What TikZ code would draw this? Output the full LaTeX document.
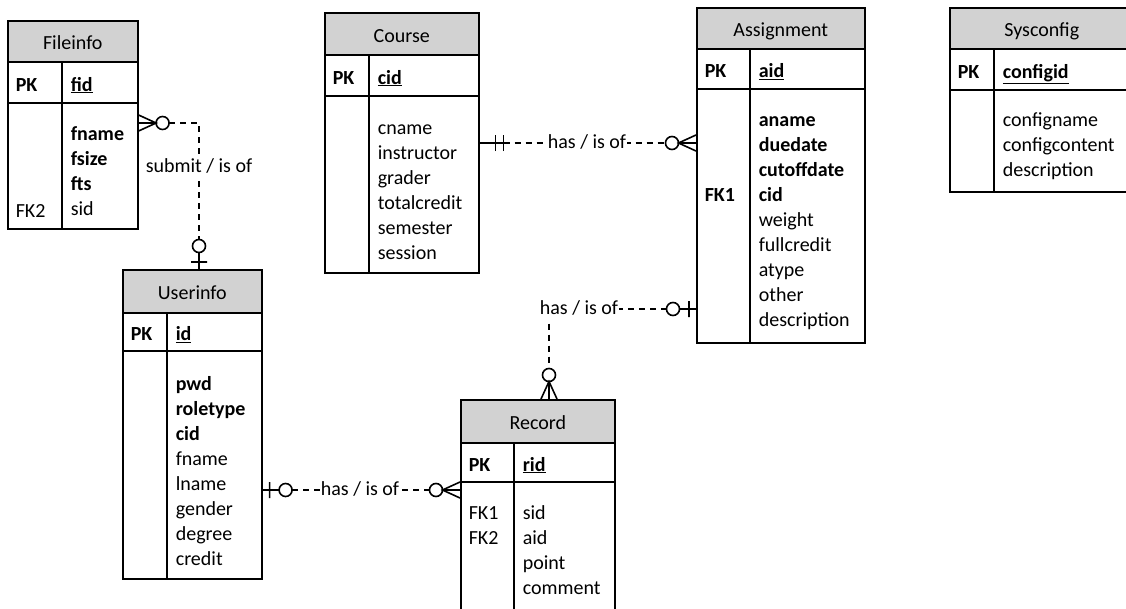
\documentclass[tikz,border=0pt]{standalone}
\usepackage{fontspec}
\setmainfont{Carlito}
\newcommand\rowstrut{\rule[-6pt]{0pt}{30pt}}
\newcommand\headstrut{\rule[-4pt]{0pt}{25pt}}
\newcommand\lblstrut{\rule[-5pt]{0pt}{20pt}}
\tikzset{
  entity/.style={draw, anchor=north west, inner sep=0pt},
  head/.style={draw, fill=gray!35, anchor=north west, inner sep=0pt, execute at begin node=\headstrut, execute at end node=\headstrut},
  field/.style={anchor=west, inner sep=0pt, align=left, execute at begin node=\rowstrut, execute at end node=\rowstrut},
  rel/.style={dash pattern=on 6pt off 5pt},
  lbl/.style={fill=white, inner xsep=1pt, inner ysep=0pt, execute at begin node=\lblstrut, execute at end node=\lblstrut},
  % crow's foot ends, entity edge at the origin, line leaving towards -x
  zmany/.pic={\draw (-24,0) circle[radius=6.5] (0,-8) -- (-17.5,0) -- (0,8) (-17.5,0) -- (0,0);},
  zone/.pic={\draw (-23,0) circle[radius=6.5] (-7,-8) -- (-7,8) (0,0) -- (-16.5,0);},
  oneone/.pic={\draw (0,0) -- (-24,0) (-16,-8) -- (-16,8) (-24,-8) -- (-24,8);}
}
\begin{document}
\begin{tikzpicture}[x=1pt, y=-1pt, line width=1.6pt, font=\fontsize{20}{25}\selectfont]
    \useasboundingbox (0,0) rectangle (1126,608);
    \clip (0,0) rectangle (1126,608);

    % Fileinfo
    \node[entity, minimum width=130, minimum height=208] (fileinfo) at (7,20) {};
    \node[head, minimum width=130, minimum height=41] (fileinfo-h) at (7,20) {Fileinfo};
    \draw (7,103) -- (137,103) (62,61) -- (62,228);
    \node[field] (fileinfo-pk) at (15,82) {\textbf{PK}};
    \node[field] (fileinfo-id) at (70,82) {\textbf{\underline{fid}}};
    \node[field] (fileinfo-fk) at (15,208) {FK2};
    \node[field] (fileinfo-at) at (70,174.5) {\textbf{fname}\\\textbf{fsize}\\\textbf{fts}\\sid};

    % Course
    \node[entity, minimum width=154, minimum height=260] (course) at (324,12) {};
    \node[head, minimum width=154, minimum height=42] (course-h) at (324,12) {Course};
    \draw (324,96) -- (478,96) (369,54) -- (369,272);
    \node[field] (course-pk) at (332,75) {\textbf{PK}};
    \node[field] (course-id) at (377,75) {\textbf{\underline{cid}}};
    \node[field] (course-at) at (377,195) {cname\\instructor\\grader\\totalcredit\\semester\\session};

    % Assignment
    \node[entity, minimum width=168, minimum height=335] (assignment) at (696,7) {};
    \node[head, minimum width=168, minimum height=41] (assignment-h) at (696,7) {Assignment};
    \draw (696,89) -- (864,89) (750,48) -- (750,342);
    \node[field] (assignment-pk) at (704,68.5) {\textbf{PK}};
    \node[field] (assignment-id) at (758,68.5) {\textbf{\underline{aid}}};
    \node[field] (assignment-fk) at (704,192) {\textbf{FK1}};
    \node[field] (assignment-at) at (758,225) {\textbf{aname}\\\textbf{duedate}\\\textbf{cutoffdate}\\\textbf{cid}\\weight\\fullcredit\\atype\\other\\description};

    % Sysconfig
    \node[entity, minimum width=184, minimum height=184] (sysconfig) at (949,7) {};
    \node[head, minimum width=184, minimum height=41] (sysconfig-h) at (949,7) {Sysconfig};
    \draw (949,90) -- (1133,90) (994,48) -- (994,191);
    \node[field] (sysconfig-pk) at (957,69) {\textbf{PK}};
    \node[field] (sysconfig-id) at (1002,69) {\textbf{\underline{configid}}};
    \node[field] (sysconfig-at) at (1002,148) {configname\\configcontent\\description};

    % Userinfo
    \node[entity, minimum width=139, minimum height=309] (userinfo) at (122,269) {};
    \node[head, minimum width=139, minimum height=43] (userinfo-h) at (122,269) {Userinfo};
    \draw (122,351) -- (261,351) (167,312) -- (167,578);
    \node[field] (userinfo-pk) at (130,331.5) {\textbf{PK}};
    \node[field] (userinfo-id) at (175,331.5) {\textbf{\underline{id}}};
    \node[field] (userinfo-at) at (175,473.5) {\textbf{pwd}\\\textbf{roletype}\\\textbf{cid}\\fname\\lname\\gender\\degree\\credit};

    % Record
    \node[entity, minimum width=154, minimum height=230] (record) at (460,399) {};
    \node[head, minimum width=154, minimum height=43] (record-h) at (460,399) {Record};
    \draw (460,482) -- (614,482) (514,442) -- (514,629);
    \node[field] (record-pk) at (468,462) {\textbf{PK}};
    \node[field] (record-id) at (522,462) {\textbf{\underline{rid}}};
    \node[field] (record-fk) at (468,528.5) {FK1\\FK2};
    \node[field] (record-at) at (522,553.5) {sid\\aid\\point\\comment};

    % relationships
    \coordinate (c1a) at (fileinfo.east |- 0,123);
    \coordinate (c1k) at (199,123);
    \coordinate (c1b) at (userinfo.north -| c1k);
    \coordinate (c2a) at (course.east |- 0,143);
    \coordinate (c2b) at (assignment.west |- 0,143);
    \coordinate (c3a) at (assignment.west |- 0,309);
    \coordinate (c3k) at (549,309);
    \coordinate (c3b) at (record.north -| c3k);
    \coordinate (c4a) at (userinfo.east |- 0,490);
    \coordinate (c4b) at (record.west |- 0,490);

    \pic[rotate=180] at (c1a) {zmany};
    \pic[rotate=-90] at (c1b) {zone};
    \draw[rel] ([xshift=30.5pt]c1a) -- (c1k) -- ([yshift=29.5pt]c1b);
    \node[lbl] (c1l) at (199,167) {submit / is of};

    \pic[rotate=180] at (c2a) {oneone};
    \pic at (c2b) {zmany};
    \draw[rel] ([xshift=24pt]c2a) -- ([xshift=-30.5pt]c2b);
    \node[lbl] (c2l) at (587,143) {has / is of};

    \pic at (c3a) {zone};
    \pic[rotate=-90] at (c3b) {zmany};
    \draw[rel] ([xshift=-29.5pt]c3a) -- (c3k) -- ([yshift=30.5pt]c3b);
    \node[lbl] (c3l) at (579,309) {has / is of};

    \pic[rotate=180] at (c4a) {zone};
    \pic at (c4b) {zmany};
    \draw[rel] ([xshift=29.5pt]c4a) -- ([xshift=-30.5pt]c4b);
    \node[lbl] (c4l) at (360,490) {has / is of};
\end{tikzpicture}
\end{document}
